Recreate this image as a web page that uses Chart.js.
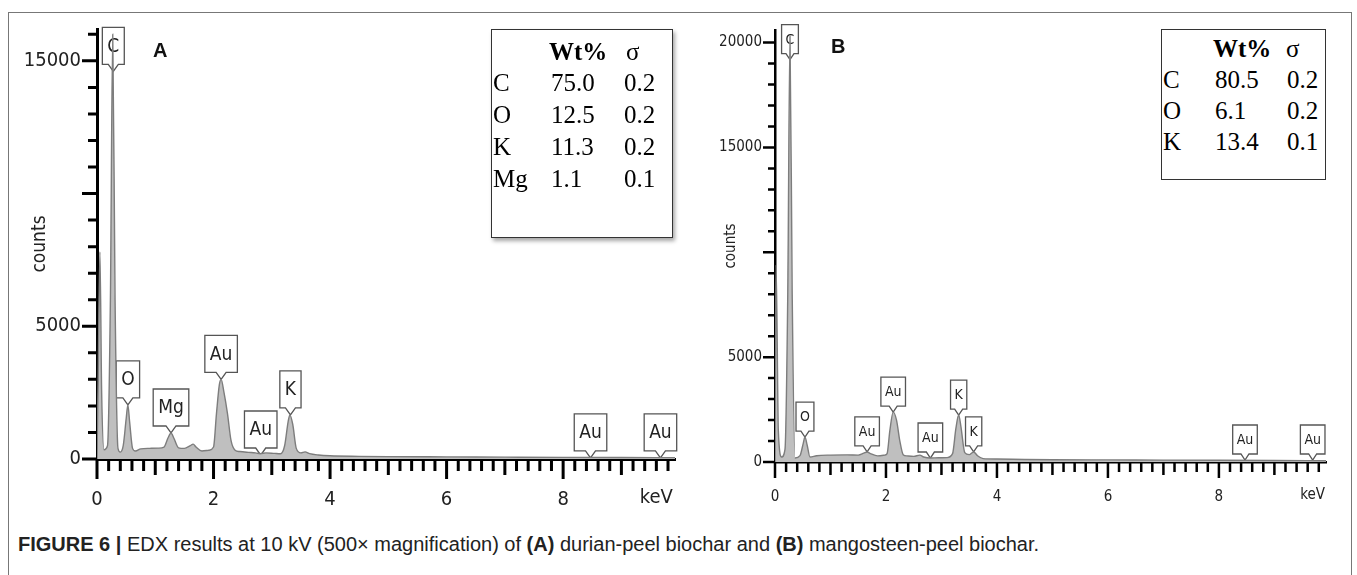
<!DOCTYPE html>
<html>
<head>
<meta charset="utf-8">
<script src="https://cdn.jsdelivr.net/npm/chart.js@4.4.0/dist/chart.umd.min.js"></script>
<style>
  body { margin: 0; width: 1357px; height: 575px; overflow: hidden; background: #fff; position: relative;
         font-family: "Liberation Sans", Arial, sans-serif; }
  .frame { position: absolute; left: 8px; top: 12px; width: 1342px; height: 620px; border: 1.5px solid #777; }
  .panel { position: absolute; top: 0; height: 520px; }
  .box { position: absolute; border: 1.5px solid #333; background: #fff; }
  .cell { position: absolute; white-space: nowrap; line-height: 1; color: #000;
          font-family: "Liberation Serif", "Times New Roman", serif; font-size: 25px; }
  .letter { position: absolute; font: bold 20px "Liberation Sans", Arial, sans-serif; color: #111; }
  .caption { position: absolute; left: 18px; top: 533px; font-size: 20px; color: #222; white-space: nowrap; }
</style>
</head>
<body>
<div class="frame"></div>
<div class="panel" style="left:0;width:700px"><canvas id="chartA"></canvas></div>
<div class="panel" style="left:680px;width:677px"><canvas id="chartB"></canvas></div>
<div class="letter" style="left:153px;top:39px">A</div>
<div class="letter" style="left:831px;top:35px">B</div>
<div class="box" style="left:491px;top:29px;width:180px;height:207px;box-shadow:2px 3px 4px rgba(0,0,0,0.35)"></div>
<div class="box" style="left:1161px;top:29px;width:163px;height:149px"></div>
<div class="caption"><b>FIGURE 6 |</b> EDX results at 10 kV (500&times; magnification) of <b>(A)</b> durian-peel biochar and <b>(B)</b> mangosteen-peel biochar.</div>

<script>
// spectrum A (durian peel) - energy in keV, intensity in counts
const keVA = [0.00, 0.02, 0.05, 0.08, 0.12, 0.18, 0.23, 0.27, 0.31, 0.36, 0.40, 0.45, 0.50, 0.53, 0.56, 0.61,
              0.66, 0.75, 0.90, 1.05, 1.15, 1.22, 1.27, 1.32, 1.40, 1.50, 1.60, 1.65, 1.70, 1.80, 1.92, 2.00,
              2.05, 2.10, 2.13, 2.18, 2.24, 2.30, 2.37, 2.45, 2.60, 2.72, 2.80, 2.90, 3.05, 3.15, 3.22, 3.28,
              3.31, 3.36, 3.42, 3.50, 3.57, 3.65, 3.80, 4.00, 4.50, 5.00, 6.00, 7.00, 8.00, 9.00, 9.92];
const countsA = [0, 3000, 7800, 2500, 350, 500, 6000, 16000, 6000, 400, 260, 500, 1500, 2040, 1400, 400,
                 300, 380, 400, 410, 450, 800, 980, 780, 420, 400, 500, 560, 450, 300, 330, 450,
                 1700, 2800, 3000, 2500, 1700, 700, 330, 280, 250, 230, 200, 230, 210, 200, 500, 1400,
                 1660, 1300, 400, 230, 270, 200, 150, 120, 100, 90, 80, 70, 60, 55, 50];

// spectrum B (mangosteen peel)
const keVB = [0.00, 0.02, 0.06, 0.12, 0.18, 0.23, 0.27, 0.31, 0.36, 0.45, 0.51, 0.54, 0.58, 0.63, 0.75, 1.00,
              1.30, 1.50, 1.60, 1.66, 1.72, 1.85, 1.98, 2.02, 2.07, 2.13, 2.19, 2.25, 2.31, 2.38, 2.50, 2.61,
              2.68, 2.80, 2.95, 3.10, 3.20, 3.26, 3.31, 3.35, 3.42, 3.50, 3.58, 3.65, 3.75, 4.00, 4.50, 5.00,
              6.00, 7.00, 8.00, 9.00, 9.93];
const countsB = [0, 9400, 1500, 240, 600, 8000, 20300, 8000, 190, 300, 900, 1190, 800, 240, 300, 330,
                 340, 330, 420, 480, 400, 290, 330, 400, 1500, 2380, 2000, 1000, 350, 290, 270, 330,
                 240, 190, 200, 210, 400, 1600, 2240, 1700, 450, 350, 480, 300, 160, 140, 120, 110,
                 100, 90, 80, 70, 60];

// peak callouts
const peakNamesA = ['C', 'O', 'Mg', 'Au', 'Au', 'K', 'Au', 'Au'];
const peakKeVA = [0.28, 0.53, 1.27, 2.13, 2.81, 3.32, 8.47, 9.67];
const peakCountsA = [14600, 2040, 980, 3000, 150, 1660, 40, 40];

const peakNamesB = ['C', 'O', 'Au', 'Au', 'Au', 'K', 'K', 'Au', 'Au'];
const peakKeVB = [0.27, 0.54, 1.66, 2.13, 2.80, 3.31, 3.58, 8.47, 9.69];
const peakCountsB = [19190, 1190, 480, 2380, 190, 2240, 480, 95, 95];

// tick labels
const xTickLabels = [0, 2, 4, 6, 8];
const yTicksA = [0, 5000, 10000, 15000];
const yTickLabelsA = [0, 5000, 15000];
const yTicksB = [0, 5000, 10000, 15000, 20000];
const yTickLabelsB = [0, 5000, 15000, 20000];

// composition tables
const tableElsA = ['C', 'O', 'K', 'Mg'];
const wtA = ['75.0', '12.5', '11.3', '1.1'];
const sigmaA = ['0.2', '0.2', '0.2', '0.1'];
const tableElsB = ['C', 'O', 'K'];
const wtB = ['80.5', '6.1', '13.4'];
const sigmaB = ['0.2', '0.2', '0.1'];

const narrow = '"Liberation Sans Narrow", "DejaVu Sans Condensed", sans-serif';

function addCell(text, left, baseline, bold) {
  const s = document.createElement('span');
  s.className = 'cell';
  s.textContent = text;
  s.style.left = left + 'px';
  s.style.top = (baseline - 21) + 'px';
  if (bold) s.style.fontWeight = 'bold';
  document.body.appendChild(s);
}

function buildTable(els, wt, sig, t) {
  addCell('Wt%', t.colWt - 2, t.header, true);
  addCell('σ', t.colSigHead, t.header, false);
  els.forEach((el, i) => {
    const b = t.first + i * t.step;
    addCell(el, t.colEl, b);
    addCell(wt[i], t.colWt, b);
    addCell(sig[i], t.colSig, b);
  });
}

buildTable(tableElsA, wtA, sigmaA, { header: 60, first: 91, step: 32, colEl: 493, colWt: 551, colSig: 624, colSigHead: 626 });
buildTable(tableElsB, wtB, sigmaB, { header: 57, first: 88, step: 31, colEl: 1163, colWt: 1215, colSig: 1287, colSigHead: 1286 });

// callouts + hand-drawn tick marks
function edxPlugin(cfg) {
  return {
    id: 'edx',
    beforeDatasetsDraw(chart) {
      const ctx = chart.ctx, xs = chart.scales.x, ys = chart.scales.y;
      ctx.save();
      ctx.font = cfg.calloutFont;
      cfg.names.forEach((name, i) => {
        const px = xs.getPixelForValue(cfg.peakKeV[i]);
        const py = ys.getPixelForValue(cfg.peakCounts[i]);
        const w = ctx.measureText(name).width + 2 * cfg.padX;
        const bottom = py - cfg.tipH, top = bottom - cfg.boxH;
        const l = px - w / 2, r = px + w / 2;
        ctx.beginPath();
        ctx.moveTo(l, top); ctx.lineTo(r, top); ctx.lineTo(r, bottom);
        ctx.lineTo(px + cfg.tipW, bottom); ctx.lineTo(px, py); ctx.lineTo(px - cfg.tipW, bottom);
        ctx.lineTo(l, bottom); ctx.closePath();
        ctx.fillStyle = '#fff'; ctx.fill();
        ctx.strokeStyle = '#555'; ctx.lineWidth = 1.3; ctx.stroke();
        ctx.fillStyle = '#222'; ctx.textAlign = 'center'; ctx.textBaseline = 'middle';
        ctx.fillText(name, px, (top + bottom) / 2 + 1);
      });
      ctx.restore();
    },
    afterDraw(chart) {
      const ctx = chart.ctx, xs = chart.scales.x, ys = chart.scales.y;
      const area = chart.chartArea;
      ctx.save();
      ctx.strokeStyle = '#000';
      ctx.lineWidth = cfg.tickW;
      ctx.beginPath();
      for (let i = 0; i * 0.2 <= xs.max + 1e-9; i++) {
        const px = xs.getPixelForValue(i * 0.2);
        const len = i % 10 === 0 ? cfg.xTick[0] : (i % 5 === 0 ? cfg.xTick[1] : cfg.xTick[2]);
        ctx.moveTo(px, area.bottom); ctx.lineTo(px, area.bottom + len);
      }
      for (let c = 0; c <= ys.max; c += 1000) {
        const py = ys.getPixelForValue(c);
        const len = c % 5000 === 0 ? cfg.yTick[0] : cfg.yTick[1];
        ctx.moveTo(area.left, py); ctx.lineTo(area.left - len, py);
      }
      ctx.stroke();
      // axis unit
      ctx.font = cfg.tickFont;
      ctx.fillStyle = '#222';
      ctx.textAlign = 'center'; ctx.textBaseline = 'top';
      ctx.fillText('keV', xs.getPixelForValue(cfg.unitAt), area.bottom + cfg.labelPad);
      ctx.restore();
    }
  };
}

function makeChart(id, keV, counts, cfg) {
  const points = keV.map((v, i) => ({ x: v, y: counts[i] }));
  return new Chart(document.getElementById(id), {
    type: 'line',
    data: {
      datasets: [{
        data: points,
        fill: 'origin',
        backgroundColor: '#bfbfbf',
        borderColor: '#7d7d7d',
        borderWidth: 1.4,
        pointRadius: 0,
        cubicInterpolationMode: 'monotone'
      }]
    },
    options: {
      responsive: true,
      maintainAspectRatio: false,
      animation: false,
      layout: { padding: { top: cfg.padTop, right: cfg.padRight, left: 0, bottom: 0 } },
      plugins: { legend: { display: false }, tooltip: { enabled: false } },
      scales: {
        x: {
          type: 'linear', min: 0, max: cfg.xMax,
          afterBuildTicks: s => { s.ticks = xTickLabels.map(v => ({ value: v })); },
          afterFit: s => { s.height = cfg.xAxisH; },
          grid: { display: false, drawTicks: false },
          border: { display: true, color: '#000', width: cfg.axisW },
          ticks: {
            autoSkip: false, maxRotation: 0,
            padding: cfg.labelPad, color: '#222', font: { family: narrow, size: cfg.tickSize },
            callback: v => String(v)
          }
        },
        y: {
          type: 'linear', min: 0, max: cfg.yMax,
          afterBuildTicks: s => { s.ticks = cfg.yTicks.map(v => ({ value: v })); },
          afterFit: s => { s.width = cfg.yAxisW; },
          grid: { display: false, drawTicks: false },
          border: { display: true, color: '#000', width: cfg.axisW },
          title: { display: true, text: 'counts', color: '#222', padding: { top: cfg.titlePad, bottom: 0 },
                   font: { family: narrow, size: cfg.titleSize } },
          ticks: {
            autoSkip: false,
            padding: cfg.yPad, color: '#222', font: { family: narrow, size: cfg.tickSize },
            callback: v => cfg.yLabels.indexOf(v) >= 0 ? String(v) : ''
          }
        }
      }
    },
    plugins: [edxPlugin(cfg)]
  });
}

makeChart('chartA', keVA, countsA, {
  xMax: 9.92, yMax: 16200, padTop: 29, padRight: 25, xAxisH: 61, yAxisW: 97,
  axisW: 3, tickW: 3, xTick: [20, 16, 12], yTick: [15, 9],
  tickSize: 20, tickFont: '20px ' + narrow, labelPad: 29, yPad: 16, titlePad: 29, titleSize: 19,
  yTicks: yTicksA, yLabels: yTickLabelsA, unitAt: 9.6,
  names: peakNamesA, peakKeV: peakKeVA, peakCounts: peakCountsA,
  calloutFont: '19px ' + narrow, padX: 5, boxH: 37, tipH: 7, tipW: 5
});

makeChart('chartB', keVB, countsB, {
  xMax: 9.93, yMax: 20600, padTop: 30, padRight: 31, xAxisH: 58, yAxisW: 95,
  axisW: 2.5, tickW: 2.5, xTick: [16, 13, 10], yTick: [12, 7],
  tickSize: 15, tickFont: '15px ' + narrow, labelPad: 26, yPad: 13, titlePad: 42, titleSize: 15,
  yTicks: yTicksB, yLabels: yTickLabelsB, unitAt: 9.69,
  names: peakNamesB, peakKeV: peakKeVB, peakCounts: peakCountsB,
  calloutFont: '14px ' + narrow, padX: 4, boxH: 29, tipH: 6, tipW: 4
});
</script>
</body>
</html>
